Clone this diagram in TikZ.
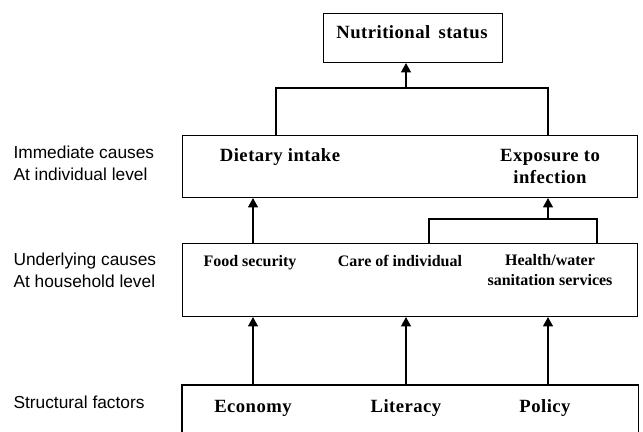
\documentclass[tikz,border=0pt]{standalone}
\usepackage{fontspec}
\setmainfont{Liberation Serif}
\newfontfamily\lblfont{Liberation Sans}
\newfontfamily\bspaced[LetterSpace=2.5]{Liberation Serif}
\usetikzlibrary{arrows.meta}
\begin{document}
\begin{tikzpicture}[x=0.75pt,y=-0.75pt,
  line width=0.8pt,
  boxn/.style={draw,rectangle,inner sep=0pt,anchor=north west},
  bt/.style={font=\bspaced\fontsize{14}{16.5}\selectfont\bfseries,inner sep=0pt,align=center,anchor=base},
  st/.style={font=\fontsize{12}{14.3}\selectfont\bfseries,inner sep=0pt,align=center,anchor=base},
  lt/.style={font=\lblfont\fontsize{13}{16.5}\selectfont,inner sep=0pt,anchor=base west,align=left},
  arr/.style={-{Triangle[width=7.5pt,length=7pt]}}]
\useasboundingbox (0,0) rectangle (643,432);
% boxes
\node[boxn,minimum width=179*0.75pt,minimum height=49*0.75pt] (ns) at (323,13) {};
\node[boxn,minimum width=455*0.75pt,minimum height=62*0.75pt] (b1) at (182,135) {};
\node[boxn,minimum width=455*0.75pt,minimum height=73*0.75pt] (b2) at (182,243) {};
\node[draw=none,rectangle,inner sep=0pt,anchor=north west,minimum width=455*0.75pt,minimum height=47*0.75pt] (b3) at (182,385) {};
\draw (b3.south west) -- (b3.north west) -- (b3.north east) -- (b3.south east);
% texts (multi-line nodes: base = last line's baseline)
\node[bt] (tns) at (412,38) {Nutritional\, status};
\node[bt] (tdi) at (280,161) {Dietary intake};
\node[bt] (tex) at (550,183) {Exposure to\\infection};
\node[st] (tfs) at (250,266) {Food security};
\node[st] (tci) at (400,266) {Care of individual};
\node[st] (thw) at (550,285) {Health/water\\sanitation services};
\node[bt] (tec) at (253,412) {Economy};
\node[bt] (tli) at (406,412) {Literacy};
\node[bt] (tpo) at (545,412) {Policy};
% left labels
\node[lt] (l1) at (13,180) {Immediate causes\\At individual level};
\node[lt] (l2) at (13,287) {Underlying causes\\At household level};
\node[lt] (l3) at (13,408) {Structural factors};
% columns
\coordinate (c1) at (253,0);
\coordinate (c2) at (406,0);
\coordinate (c3) at (548,0);
\coordinate (t1) at (276,88);
\coordinate (t2) at (548,88);
\coordinate (tm) at (406,88);
\coordinate (e1) at (429,219);
\coordinate (e2) at (597,219);
\coordinate (em) at (548,219);
% top tree
\draw (b1.north -| t1) -- (t1) -- (t2) -- (b1.north -| t2);
\draw[arr] (tm) -- (ns.south -| tm);
% exposure tree
\draw (b2.north -| e1) -- (e1) -- (e2) -- (b2.north -| e2);
\draw[arr] (em) -- (b1.south -| em);
% dietary
\draw[arr] (b2.north -| c1) -- (b1.south -| c1);
% bottom arrows
\draw[arr] (b3.north -| c1) -- (b2.south -| c1);
\draw[arr] (b3.north -| c2) -- (b2.south -| c2);
\draw[arr] (b3.north -| c3) -- (b2.south -| c3);
\end{tikzpicture}
\end{document}
